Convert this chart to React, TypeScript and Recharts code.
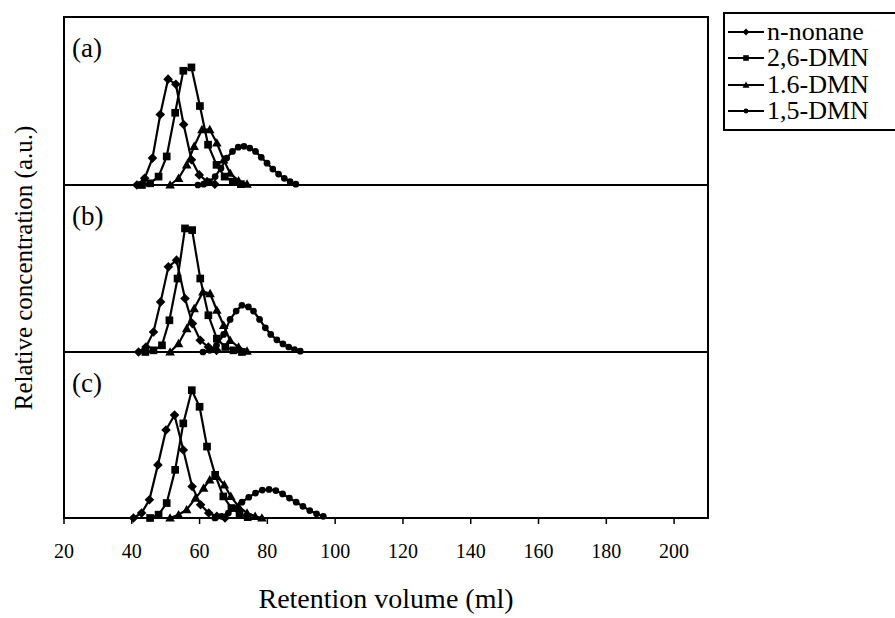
import React from 'react';
import { LineChart, Line, XAxis, YAxis, ReferenceArea, Label } from 'recharts';

const SERIF = '"Liberation Serif", "Times New Roman", serif';

const xTicks = [20, 40, 60, 80, 100, 120, 140, 160, 180, 200];
const seriesNames = ['n-nonane', '2,6-DMN', '1.6-DMN', '1,5-DMN'];
const seriesShapes = ['diamond', 'square', 'triangle', 'circle'];
const panelLabels = ['(a)', '(b)', '(c)'];

// panel (a)
const aNonaneX = [41.5, 43.8, 46.1, 48.4, 50.7, 53.0, 55.3, 57.6, 59.9, 62.2, 64.5];
const aNonaneY = [0, 4, 16, 42, 63, 60, 36, 15, 6, 2, 0.5];
const a26X = [43.0, 45.4, 47.9, 50.3, 52.8, 55.2, 57.6, 60.1, 62.5, 65.0, 67.4, 69.8, 72.2];
const a26Y = [0, 1, 5, 17, 43, 68, 70, 47, 24, 12, 5, 2, 0.5];
const a16X = [51.3, 53.8, 56.2, 58.4, 60.7, 63.0, 65.1, 67.1, 69.0, 71.5, 74.0];
const a16Y = [0, 4, 12, 23, 33, 33, 25, 15, 7, 2.5, 0.5];
const a15X = [59.5, 61.2, 62.9, 64.6, 66.3, 68.0, 69.7, 71.4, 73.1, 74.8, 76.5, 78.2, 79.9, 81.6, 83.3, 85.0, 86.7, 88.4];
const a15Y = [0, 0.5, 2, 5, 10, 16, 20, 22.5, 23, 22, 20, 16.5, 13, 9.5, 6.5, 4, 2, 0.5];

// panel (b)
const bNonaneX = [42.0, 44.2, 46.4, 48.5, 50.8, 53.2, 55.7, 57.9, 60.2, 62.6, 65.0];
const bNonaneY = [0, 3, 12, 30, 51, 55, 32, 17, 7, 3, 1];
const b26X = [44.0, 46.4, 48.9, 51.1, 53.5, 55.7, 57.8, 60.2, 62.6, 65.1, 67.6, 70.0, 72.5];
const b26Y = [0, 1, 4, 19, 44, 74, 73, 44, 22, 8, 3, 1, 0];
const b16X = [51.3, 53.8, 56.2, 58.4, 61.0, 63.1, 65.1, 67.1, 69.0, 71.5, 74.0];
const b16Y = [0, 5, 14, 26, 36, 35, 25, 16, 7, 3, 0.5];
const b15X = [61.0, 63.0, 65.0, 67.1, 69.0, 70.8, 72.5, 74.4, 75.9, 77.7, 79.4, 81.0, 82.8, 84.6, 86.3, 88.0, 89.7];
const b15Y = [0, 1, 4, 10.5, 19.5, 24.5, 28, 27, 24.5, 19.5, 14.5, 10.5, 7.3, 4.8, 3, 1.5, 0.5];

// panel (c)
const cNonaneX = [40.5, 42.9, 45.2, 47.7, 50.1, 52.6, 55.2, 57.8, 60.3, 62.7, 65.1, 67.5];
const cNonaneY = [0, 3, 11, 32, 53, 62, 41, 19, 8, 3, 1, 0];
const c26X = [45.4, 47.9, 50.3, 52.8, 55.2, 57.7, 60.0, 62.2, 64.6, 67.0, 69.4, 71.8, 74.2];
const c26Y = [0, 2, 9, 29, 57, 77, 67, 43, 26, 13, 6, 2.5, 0.5];
const c16X = [51.3, 53.8, 56.2, 58.8, 61.2, 63.0, 65.1, 67.3, 69.2, 71.5, 74.0, 76.4, 78.4];
const c16Y = [0, 2, 5, 12, 18, 23, 25, 20, 13, 7, 3, 1, 0];
const c15X = [64.5, 66.5, 68.5, 70.5, 72.5, 74.5, 76.5, 78.5, 80.5, 82.5, 84.5, 86.5, 88.5, 90.5, 92.5, 94.5, 96.5];
const c15Y = [0, 1, 3, 6, 9.5, 12.5, 15, 16.8, 17.2, 16.5, 14.5, 12, 9.5, 7, 4.5, 2.5, 1];

const toPoints = (xs: number[], ys: number[]) => xs.map((x, i) => ({ x, v: ys[i] }));

const panels = [
  [toPoints(aNonaneX, aNonaneY), toPoints(a26X, a26Y), toPoints(a16X, a16Y), toPoints(a15X, a15Y)],
  [toPoints(bNonaneX, bNonaneY), toPoints(b26X, b26Y), toPoints(b16X, b16Y), toPoints(b15X, b15Y)],
  [toPoints(cNonaneX, cNonaneY), toPoints(c26X, c26Y), toPoints(c16X, c16Y), toPoints(c15X, c15Y)],
];

function marker(shape: string, cx: number, cy: number, s: number, key?: string) {
  if (shape === 'diamond') {
    return <path key={key} d={`M${cx},${cy - s}L${cx + s},${cy}L${cx},${cy + s}L${cx - s},${cy}Z`} fill="#000" />;
  }
  if (shape === 'square') {
    const h = s * 0.8;
    return <rect key={key} x={cx - h} y={cy - h} width={h * 2} height={h * 2} fill="#000" />;
  }
  if (shape === 'triangle') {
    return <path key={key} d={`M${cx},${cy - s}L${cx + s},${cy + s * 0.75}L${cx - s},${cy + s * 0.75}Z`} fill="#000" />;
  }
  return <circle key={key} cx={cx} cy={cy} r={s * 0.7} fill="#000" />;
}

const dotFor = (shape: string) => (props: any) =>
  marker(shape, props.cx, props.cy, 4.8, `dot-${shape}-${props.index}`);

function ChartLegend() {
  return (
    <div
      style={{
        position: 'absolute',
        left: 723,
        top: 12,
        width: 172,
        boxSizing: 'border-box',
        border: '2px solid #000',
        borderRight: 'none',
        background: '#fff',
        padding: '5px 0 5px 3px',
        fontFamily: SERIF,
        fontSize: 26,
        color: '#000',
        overflow: 'hidden',
      }}
    >
      {seriesNames.map((name, i) => (
        <div key={name} style={{ display: 'flex', alignItems: 'center', height: 26.3, whiteSpace: 'nowrap' }}>
          <svg width={36} height={12} style={{ flex: 'none' }}>
            <line x1={0} y1={6} x2={36} y2={6} stroke="#000" strokeWidth={2} />
            {marker(seriesShapes[i], 18, 6, 3.5)}
          </svg>
          <span style={{ marginLeft: 3 }}>{name}</span>
        </div>
      ))}
    </div>
  );
}

const panelLabel = (text: string) => (props: any) => {
  const vb = props.viewBox || {};
  return (
    <text x={vb.x + 8} y={vb.y + 40} fontFamily={SERIF} fontSize={27} fill="#000">
      {text}
    </text>
  );
};

interface PanelProps {
  index: number;
  top: number;
  height: number;
  marginTop: number;
  marginBottom: number;
  showAxis: boolean;
}

function Panel({ index, top, height, marginTop, marginBottom, showAxis }: PanelProps) {
  const series = panels[index];
  return (
    <div style={{ position: 'absolute', left: 0, top }}>
      <LineChart
        width={895}
        height={height}
        margin={{ top: marginTop, right: 187, bottom: marginBottom, left: 64 }}
      >
        <XAxis
          type="number"
          dataKey="x"
          domain={[20, 210]}
          ticks={xTicks}
          allowDataOverflow
          hide={!showAxis}
          height={100}
          axisLine={false}
          tickLine={{ stroke: '#000', strokeWidth: 1.5 }}
          tickSize={6}
          tickMargin={20}
          tick={{ fill: '#000', fontSize: 20, fontFamily: SERIF }}
        >
          {showAxis && (
            <Label
              value="Retention volume (ml)"
              position="insideBottom"
              offset={10}
              style={{ fill: '#000', fontSize: 28, fontFamily: SERIF }}
            />
          )}
        </XAxis>
        <YAxis type="number" domain={[0, 100]} hide />
        <ReferenceArea
          x1={20}
          x2={210}
          y1={0}
          y2={100}
          fill="none"
          fillOpacity={0}
          stroke="#000"
          strokeWidth={2}
          label={panelLabel(panelLabels[index])}
        />
        {series.map((pts, i) => (
          <Line
            key={seriesNames[i]}
            name={seriesNames[i]}
            data={pts}
            dataKey="v"
            type="linear"
            stroke="#000"
            strokeWidth={2.2}
            dot={dotFor(seriesShapes[i])}
            activeDot={false}
            isAnimationActive={false}
          />
        ))}
      </LineChart>
    </div>
  );
}

export default function App() {
  return (
    <div
      style={{
        position: 'absolute',
        left: 0,
        top: 0,
        width: 895,
        height: 618,
        background: '#fff',
        overflow: 'hidden',
      }}
    >
      <svg width={60} height={618} style={{ position: 'absolute', left: 0, top: 0 }}>
        <text
          x={23}
          y={268}
          transform="rotate(-90, 23, 268)"
          textAnchor="middle"
          dominantBaseline="central"
          fontFamily={SERIF}
          fontSize={25}
          fill="#000"
        >
          Relative concentration (a.u.)
        </text>
      </svg>
      <Panel index={0} top={0} height={195} marginTop={17} marginBottom={10} showAxis={false} />
      <Panel index={1} top={185} height={177} marginTop={0} marginBottom={10} showAxis={false} />
      <Panel index={2} top={352} height={266} marginTop={0} marginBottom={0} showAxis />
      <ChartLegend />
    </div>
  );
}
